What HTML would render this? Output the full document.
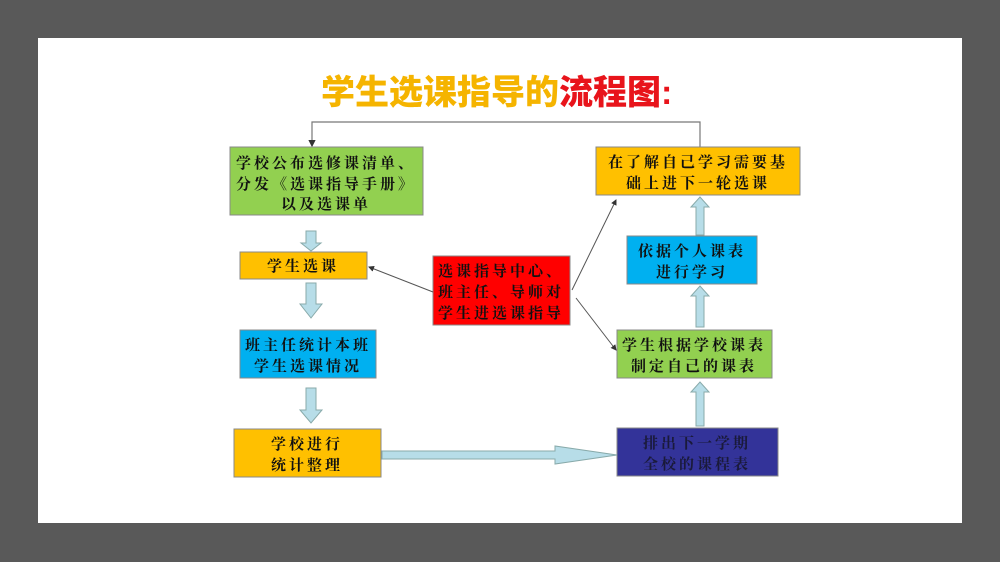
<!DOCTYPE html>
<html><head><meta charset="utf-8"><style>
html,body{margin:0;padding:0;background:#595959;width:1000px;height:562px;overflow:hidden}
.panel{position:absolute;left:38px;top:38px;width:924px;height:485px;background:#fff}
svg{position:absolute;left:0;top:0}
text{font-family:"Liberation Sans","Noto Serif CJK SC","Noto Sans CJK SC",serif;font-size:15px;font-weight:bold;fill:#111;text-anchor:middle;letter-spacing:3px}
.t{font-family:"Liberation Sans","Noto Sans CJK SC",sans-serif;font-weight:900;font-size:34px;letter-spacing:0}
</style></head><body>
<div class="panel"></div>
<svg width="1000" height="562" viewBox="0 0 1000 562">
<defs><marker id="a" markerWidth="6" markerHeight="6" refX="5" refY="3" orient="auto"><path d="M0,0L6,3L0,6z" fill="#333"/></marker></defs>
<text class="t" x="321" y="104" style="text-anchor:start"><tspan fill="#f5b400">学生选课指导的</tspan><tspan fill="#e8141b">流程图:</tspan></text>
<path d="M700,148V122H312V146" fill="none" stroke="#777" stroke-width="1.2" marker-end="url(#a)"/>
<g stroke="#888" stroke-width="1">
<rect x="230" y="147" width="193" height="68" fill="#92d050"/>
<rect x="596" y="147" width="204" height="48" fill="#ffc000"/>
<rect x="240" y="252" width="127" height="27" fill="#ffc000"/>
<rect x="433" y="256" width="137" height="69" fill="#ff0000"/>
<rect x="240" y="330" width="136" height="48" fill="#00b0f0"/>
<rect x="627" y="236" width="130" height="48" fill="#00b0f0"/>
<rect x="617" y="330" width="155" height="48" fill="#92d050"/>
<rect x="234" y="429" width="147" height="48" fill="#ffc000"/>
<rect x="617" y="428" width="161" height="48" fill="#333399"/>
</g>
<g fill="#b7dde8" stroke="#8aa" stroke-width="1">
<path d="M306,231h10v12h5l-10,8l-10,-8h5z"/>
<path d="M306,283h10v21h6l-11,14l-11,-14h6z"/>
<path d="M306,388h10v22h6l-11,13l-11,-13h6z"/>
<path d="M696,235h8v-28h5l-9,-10l-9,10h5z"/>
<path d="M696,327h8v-31h5l-9,-10l-9,10h5z"/>
<path d="M696,426h8v-34h5l-9,-10l-9,10h5z"/>
<path d="M382,451h173v-5l62,9l-62,9v-5h-173z"/>
</g>
<g stroke="#555" stroke-width="1" fill="none" marker-end="url(#a)">
<line x1="433" y1="292" x2="369" y2="267"/>
<line x1="572" y1="290" x2="616" y2="200"/>
<line x1="576" y1="298" x2="616" y2="350"/>
</g>
<text x="326" y="168">学校公布选修课清单、</text>
<text x="326" y="189">分发《选课指导手册》</text>
<text x="326" y="209">以及选课单</text>
<text x="698" y="167">在了解自己学习需要基</text>
<text x="698" y="188">础上进下一轮选课</text>
<text x="303" y="271">学生选课</text>
<text x="501" y="276">选课指导中心、</text>
<text x="501" y="297">班主任、导师对</text>
<text x="501" y="318">学生进选课指导</text>
<text x="308" y="350">班主任统计本班</text>
<text x="308" y="371">学生选课情况</text>
<text x="692" y="256">依据个人课表</text>
<text x="692" y="277">进行学习</text>
<text x="694" y="350">学生根据学校课表</text>
<text x="694" y="371">制定自己的课表</text>
<text x="307" y="449">学校进行</text>
<text x="307" y="470">统计整理</text>
<text x="697" y="448" style="fill:#1a1a3a">排出下一学期</text>
<text x="697" y="469" style="fill:#1a1a3a">全校的课程表</text>
</svg>
</body></html>
